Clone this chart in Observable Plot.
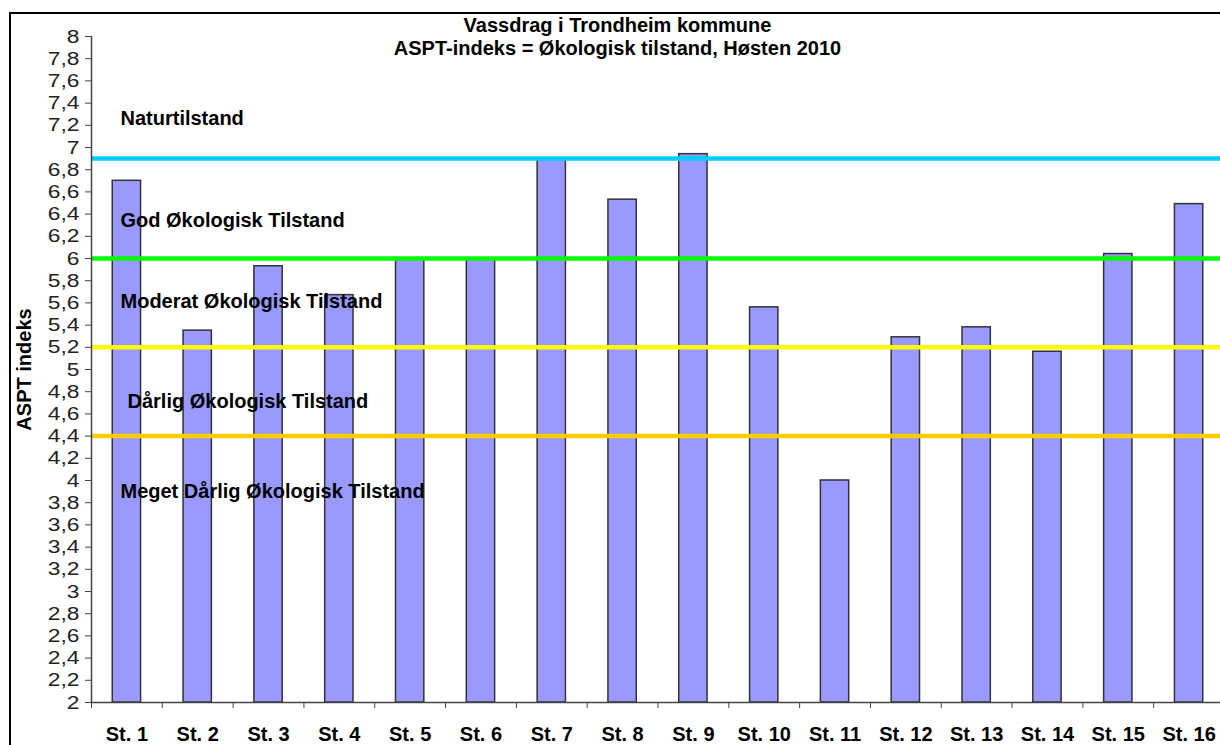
<!DOCTYPE html>
<html>
<head>
<meta charset="utf-8">
<script src="https://cdn.jsdelivr.net/npm/d3@7"></script>
<script src="https://cdn.jsdelivr.net/npm/@observablehq/plot@0.6"></script>
<style>
  html, body { margin: 0; padding: 0; background: #fff; overflow: hidden; width: 1220px; height: 745px; }
  #frame { position: absolute; left: 9px; top: 12px; width: 1300px; height: 800px; border: 2px solid #000; box-sizing: border-box; }
  .title { position: absolute; left: 0; width: 1235px; text-align: center; font-family: "Liberation Sans", Arial, sans-serif; font-weight: bold; font-size: 20px; line-height: 20px; color: #000; white-space: nowrap; }
  #chart { position: absolute; left: 0; top: 0; width: 1240px; height: 745px; }
  #chart svg { max-width: none !important; }
</style>
</head>
<body>
<div id="frame"></div>
<div id="chart"></div>
<div class="title" style="top:15px">Vassdrag i Trondheim kommune</div>
<div class="title" style="top:38px">ASPT-indeks = Økologisk tilstand, Høsten 2010</div>
<script>
// ---- data ----
const stations = ["St. 1","St. 2","St. 3","St. 4","St. 5","St. 6","St. 7","St. 8","St. 9","St. 10","St. 11","St. 12","St. 13","St. 14","St. 15","St. 16"];
const asptValues = [6.70, 5.35, 5.93, 5.67, 6.00, 6.00, 6.89, 6.53, 6.94, 5.56, 4.00, 5.29, 5.38, 5.16, 6.04, 6.49];
const thresholdValues = [6.9, 6.0, 5.2, 4.4];
const thresholdColors = ["#00CCFF", "#00FF00", "#FFFF00", "#FFCC00"];
const zoneLabels = ["Naturtilstand", "God Økologisk Tilstand", "Moderat Økologisk Tilstand", "Dårlig Økologisk Tilstand", "Meget Dårlig Økologisk Tilstand"];
const zoneLabelY = [7.26, 6.34, 5.61, 4.71, 3.90];
const yTicks = [2, 2.2, 2.4, 2.6, 2.8, 3, 3.2, 3.4, 3.6, 3.8, 4, 4.2, 4.4, 4.6, 4.8, 5, 5.2, 5.4, 5.6, 5.8, 6, 6.2, 6.4, 6.6, 6.8, 7, 7.2, 7.4, 7.6, 7.8, 8];
const yDomain = [2, 8];
const yTitle = "ASPT indeks";

// ---- build ----
const bars = stations.map((s, i) => ({station: s, value: asptValues[i]}));
const thresholds = thresholdValues.map((v, i) => ({value: v, color: thresholdColors[i]}));
const zones = zoneLabels.map((t, i) => ({text: t, y: zoneLabelY[i]}));

const W = 1240, H = 745;
const mL = 91, mR = 16, mT = 36, mB = 43;
const step = (W - mL - mR) / stations.length;
const fmt = d => String(+d.toFixed(1)).replace(".", ",");

const plot = Plot.plot({
  width: W,
  height: H,
  marginLeft: mL,
  marginRight: mR,
  marginTop: mT,
  marginBottom: mB,
  style: {fontFamily: "'Liberation Sans', Arial, sans-serif", fontSize: "20px", color: "#000", background: "transparent", overflow: "visible", maxWidth: "none"},
  x: {type: "band", domain: stations, paddingInner: 0.6, paddingOuter: 0.3, align: 0.5, round: false, label: null},
  y: {domain: yDomain, label: null},
  marks: [
    Plot.barY(bars, {x: "station", y1: yDomain[0], y2: "value", fill: "#9999FF", stroke: "#333", strokeWidth: 1.5}),
    Plot.ruleY(thresholds, {y: "value", stroke: "color", strokeWidth: 4.5}),
    Plot.ruleY([yDomain[0]], {stroke: "#444", strokeWidth: 1.5}),
    Plot.ruleX([stations[0]], {x: d => d, y1: yDomain[0], y2: yDomain[1], dx: -step / 2, stroke: "#444", strokeWidth: 1.5}),
    Plot.axisY({ticks: yTicks, tickFormat: fmt, tickSize: 6, tickPadding: 6, fontSize: 19, fontWeight: "normal", fill: "#222", stroke: "#444", label: null}),
    Plot.axisX({tickSize: 6, text: null, dx: -step / 2, stroke: "#444", label: null}),
    Plot.axisX({tickSize: 0, tickPadding: 24, fontSize: 20, fontWeight: "bold", fill: "#000", label: null}),
    Plot.text(zones, {filter: (d, i) => i !== 3, text: "text", y: "y", frameAnchor: "left", dx: 29, textAnchor: "start", fontWeight: "bold", fontSize: 20, fill: "#000"}),
    Plot.text(zones, {filter: (d, i) => i === 3, text: "text", y: "y", frameAnchor: "left", dx: 36, textAnchor: "start", fontWeight: "bold", fontSize: 20, fill: "#000"}),
    Plot.text([yTitle], {frameAnchor: "left", rotate: -90, textAnchor: "middle", dx: -67, fontWeight: "bold", fontSize: 20, fill: "#000"})
  ]
});

// widen the regular-weight y tick labels horizontally, as in the reference
plot.querySelectorAll('g[aria-label="y-axis tick label"] text').forEach(t => {
  const s = " scale(1.2,1)";
  const tr = t.getAttribute("transform");
  if (tr) {
    t.setAttribute("transform", tr + s);
  } else {
    const x = t.getAttribute("x") || 0, y = t.getAttribute("y") || 0;
    t.removeAttribute("x"); t.removeAttribute("y");
    t.setAttribute("transform", `translate(${x},${y})` + s);
  }
});

document.getElementById("chart").appendChild(plot);
</script>
</body>
</html>
